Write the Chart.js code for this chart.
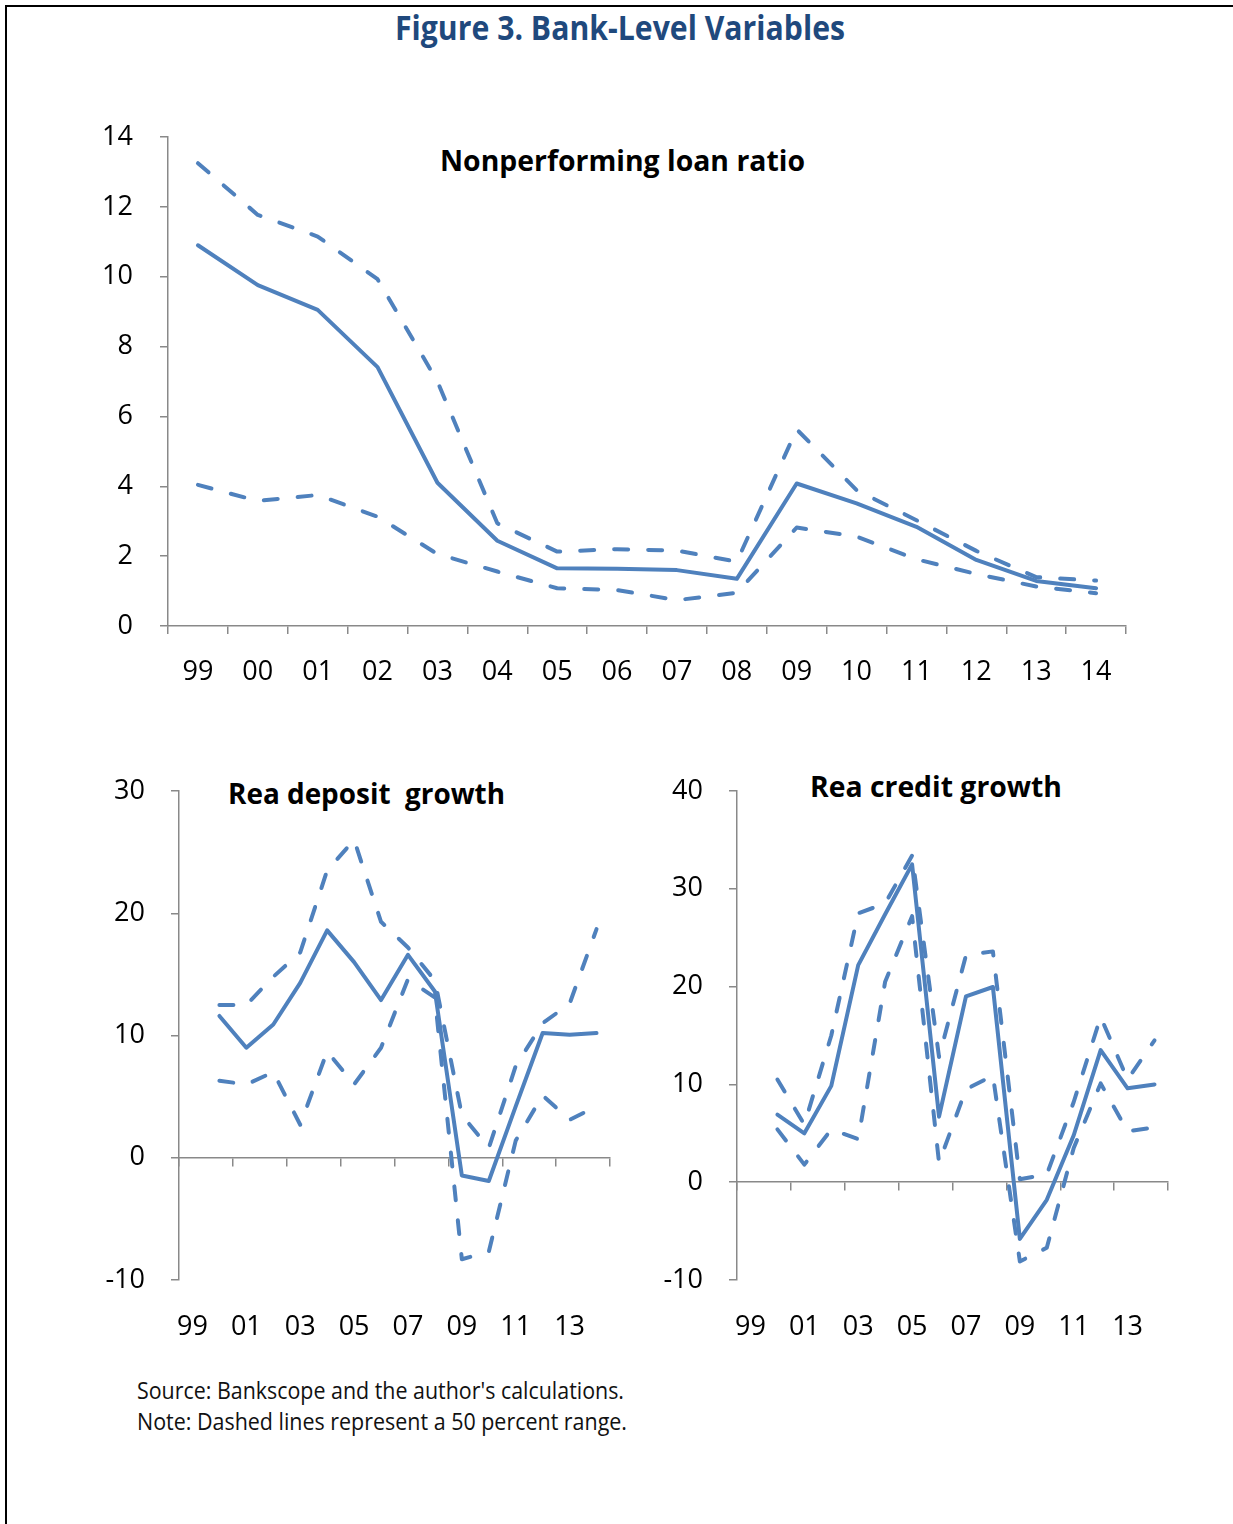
<!DOCTYPE html>
<html><head><meta charset="utf-8">
<script src="https://cdn.jsdelivr.net/npm/chart.js@4.4.1/dist/chart.umd.min.js"></script>
<style>
html,body{margin:0;padding:0;background:#fff;}
body{width:1233px;height:1524px;position:relative;overflow:hidden;font-family:'Open Sans',sans-serif;}
#frame{position:absolute;left:5px;top:5px;width:1300px;height:1600px;border-left:2px solid #000;border-top:2px solid #000;}
canvas{position:absolute;}
.txt{position:absolute;white-space:nowrap;line-height:1;transform-origin:0 0;left:0;top:0;}
</style></head><body>
<div id="frame"></div>
<div class="txt" id="t0" style="font-weight:700;color:#1F497D">Figure 3. Bank-Level Variables</div>
<div class="txt" id="t1" style="font-weight:700;color:#000">Nonperforming loan ratio</div>
<div class="txt" id="t2" style="font-weight:700;color:#000">Rea deposit&nbsp; growth</div>
<div class="txt" id="t3" style="font-weight:700;color:#000">Rea credit growth</div>
<div class="txt" id="t4" style="font-weight:400;color:#111">Source: Bankscope and the author's calculations.</div>
<div class="txt" id="t5" style="font-weight:400;color:#111">Note: Dashed lines represent a 50 percent range.</div>
<canvas id="c1" width="1100" height="600" style="left:60px;top:110px"></canvas>
<canvas id="c2" width="580" height="600" style="left:60px;top:760px"></canvas>
<canvas id="c3" width="580" height="600" style="left:620px;top:760px"></canvas>
<script>
// ---- data ----
const years = ['99','00','01','02','03','04','05','06','07','08','09','10','11','12','13','14'];

const nplMedian = [10.9, 9.76, 9.05, 7.41, 4.10, 2.44, 1.65, 1.64, 1.60, 1.35, 4.08, 3.51, 2.84, 1.89, 1.29, 1.08];
const nplUpper  = [13.25, 11.77, 11.15, 9.93, 7.0, 2.94, 2.13, 2.20, 2.16, 1.84, 5.63, 3.89, 3.03, 2.15, 1.40, 1.30];
const nplLower  = [4.04, 3.58, 3.75, 3.13, 2.06, 1.56, 1.08, 1.03, 0.74, 0.95, 2.82, 2.56, 1.91, 1.49, 1.13, 0.94];

const depMedian = [null, 11.6, 9.0, 10.9, 14.3, 18.6, 16.0, 12.9, 16.6, 13.6, -1.45, -1.9, 4.2, 10.2, 10.06, 10.2];
const depUpper  = [null, 12.5, 12.5, 14.8, 16.8, 23.5, 26.0, 19.3, 17.2, 14.5, 3.5, 0.8, 7.5, 11.0, 12.6, 18.7];
const depLower  = [null, 6.3, 6.0, 7.0, 2.7, 8.7, 6.0, 9.0, 14.6, 13.1, -8.3, -7.7, 1.4, 5.1, 3.1, 4.2];

const credMedian = [null, 6.9, 5.0, 9.85, 22.2, 27.4, 32.5, 6.7, 19.0, 19.96, -5.8, -1.8, 4.8, 13.5, 9.6, 10.0];
const credUpper  = [null, 10.5, 5.9, 15.0, 27.5, 28.5, 33.4, 12.8, 23.2, 23.6, 0.3, 0.8, 8.2, 16.9, 10.5, 14.5];
const credLower  = [null, 5.4, 1.8, 5.4, 4.4, 20.5, 27.2, 2.0, 9.5, 10.9, -8.1, -6.7, 3.5, 10.1, 5.2, 5.6];

const nplTicks = {min: 0, max: 14, step: 2};
const depTicks = {min: -10, max: 30, step: 10};
const credTicks = {min: -10, max: 40, step: 10};

// ---- text fitting ----
const textBoxes = [
  {id:'t0', x0:395, x1:845, capTop:17, base:41},
  {id:'t1', x0:440, x1:805, capTop:151, base:172},
  {id:'t2', x0:228, x1:505, capTop:784, base:805},
  {id:'t3', x0:810, x1:1062, capTop:777, base:798},
  {id:'t4', x0:137, x1:624, capTop:1383, base:1400},
  {id:'t5', x0:137, x1:627, capTop:1414, base:1431}
];
function fitText(b){
  const el = document.getElementById(b.id);
  const fs = (b.base - b.capTop) / 0.714;
  el.style.fontSize = fs + 'px';
  const w = el.getBoundingClientRect().width;
  el.style.left = b.x0 + 'px';
  el.style.top = (b.base - 0.888 * fs) + 'px';
  el.style.transform = 'scaleX(' + ((b.x1 - b.x0) / w) + ')';
}
textBoxes.forEach(fitText);

// ---- charts ----
Chart.defaults.font.family = "'Open Sans', sans-serif";
const BLUE = '#4F81BD';
const AXIS = '#898989';
const TICKFONT = {size: 27};

function ds(data, dashed){
  return {
    data: data, borderColor: BLUE, backgroundColor: BLUE,
    borderWidth: 4,
    borderDash: dashed ? [14, 20] : [],
    borderCapStyle: 'round', borderJoinStyle: 'round',
    pointRadius: 0, pointHoverRadius: 0, tension: 0, fill: false
  };
}
const basePlugins = {legend:{display:false}, tooltip:{enabled:false}, title:{display:false}};

function yScale(t, width, pad){
  return {
    min: t.min, max: t.max,
    ticks: {stepSize: t.step, padding: pad, color: '#000', font: TICKFONT},
    grid: {drawOnChartArea: false, drawTicks: true, tickLength: 8, color: AXIS, lineWidth: 1.5},
    border: {display: true, color: AXIS, width: 1.5},
    afterFit: s => { s.width = width; s.paddingTop = 0; s.paddingBottom = 0; }
  };
}
function xFit(h){
  return s => { s.height = h; s.paddingLeft = 0; s.paddingRight = 0; };
}

// Top chart
new Chart(document.getElementById('c1'), {
  type: 'line',
  data: {labels: years, datasets: [ds(nplUpper, true), ds(nplLower, true), ds(nplMedian, false)]},
  options: {
    responsive: false, animation: false, events: [],
    layout: {padding: {left: 0, right: 34, top: 27, bottom: 0}},
    plugins: basePlugins,
    scales: {
      x: {
        type: 'category', offset: true,
        grid: {offset: true, drawOnChartArea: false, drawTicks: true, tickLength: 8, color: AXIS, lineWidth: 1.5},
        border: {display: true, color: AXIS, width: 1.5},
        ticks: {autoSkip: false, maxRotation: 0, padding: 22, color: '#000', font: TICKFONT},
        afterFit: xFit(84)
      },
      y: yScale(nplTicks, 108, 27)
    }
  }
});

function every2(ctx){
  return (ctx.index === undefined || ctx.index % 2 === 0) ? AXIS : 'rgba(0,0,0,0)';
}
function lowerChart(id, med, up, lo, t, yWidth, padRight){
  new Chart(document.getElementById(id), {
    type: 'line',
    data: {labels: years, datasets: [ds(up, true), ds(lo, true), ds(med, false)]},
    options: {
      responsive: false, animation: false, events: [],
      layout: {padding: {left: 0, right: padRight, top: 31, bottom: 0}},
      plugins: basePlugins,
      scales: {
        x: {
          type: 'category', offset: true, position: {y: 0},
          grid: {offset: true, drawOnChartArea: false, drawTicks: true, tickLength: 8, color: every2, lineWidth: 1.5},
          border: {display: true, color: AXIS, width: 1.5},
          ticks: {display: false, autoSkip: false},
          afterFit: s => { s.paddingLeft = 0; s.paddingRight = 0; }
        },
        x2: {
          type: 'category', position: 'bottom', offset: true,
          grid: {display: false, drawTicks: false},
          border: {display: false},
          ticks: {autoSkip: false, maxRotation: 0, padding: 31, color: '#000', font: TICKFONT,
            callback: function(v, i){ return i % 2 === 0 ? this.getLabelForValue(v) : ''; }},
          afterFit: xFit(80)
        },
        y: yScale(t, yWidth, 26)
      }
    }
  });
}
lowerChart('c2', depMedian, depUpper, depLower, depTicks, 119, 30);
lowerChart('c3', credMedian, credUpper, credLower, credTicks, 117, 32);
</script>
</body></html>
